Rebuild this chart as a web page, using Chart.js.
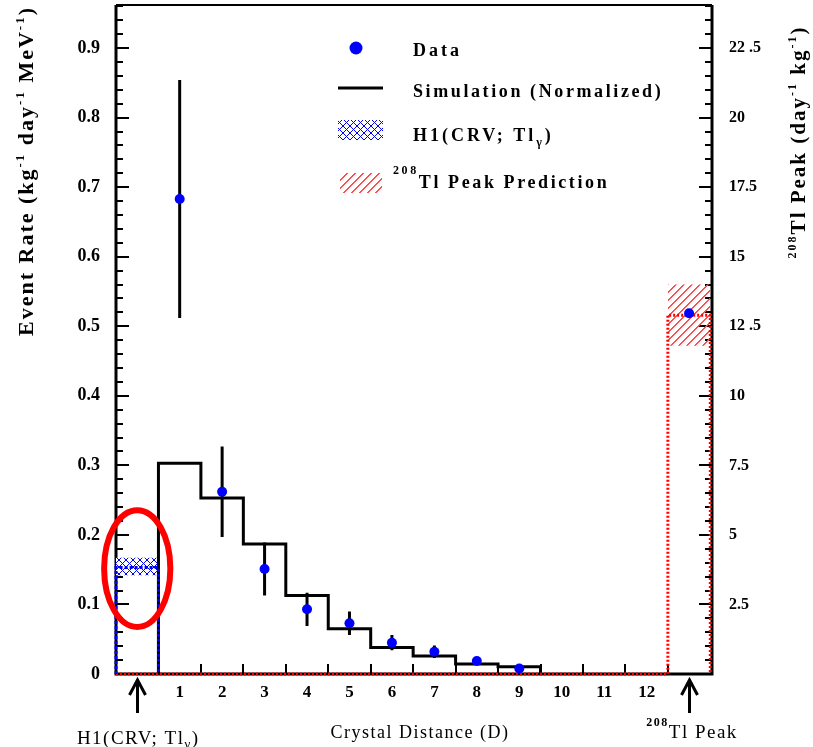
<!DOCTYPE html>
<html><head><meta charset="utf-8">
<script src="https://cdn.jsdelivr.net/npm/chart.js@4/dist/chart.umd.min.js"></script>
<style>html,body{margin:0;padding:0;background:#fff;}#wrap{width:813px;height:747px;position:relative;}canvas{display:block;}</style>
</head><body><div id="wrap"><canvas id="c" width="813" height="747"></canvas></div>
<script>
// ---------- data ----------
const xTickValues = [1,2,3,4,5,6,7,8,9,10,11,12];
const xTickLabels = ['1','2','3','4','5','6','7','8','9','10','11','12'];
const yTickValues = [0,0.1,0.2,0.3,0.4,0.5,0.6,0.7,0.8,0.9];
const yTickLabels = ['0','0.1','0.2','0.3','0.4','0.5','0.6','0.7','0.8','0.9'];
const y2TickValues = [2.5,5,7.5,10,12.5,15,17.5,20,22.5];
const y2TickLabels = ['2.5','5','7.5','10','12 .5','15','17.5','20','22 .5'];

const simEdges = [0.5,1.5,2.5,3.5,4.5,5.5,6.5,7.5,8.5,9.5];
const simValues = [0.303,0.253,0.187,0.113,0.065,0.038,0.026,0.0145,0.0105];

const dataX = [1,2,3,4,5,6,7,8,9];
const dataY = [0.683,0.262,0.151,0.093,0.073,0.045,0.032,0.0187,0.008];
const dataErr = [0.171,0.065,0.038,0.024,0.017,0.011,0.009,0.004,0.002];

const h1Edges = [-0.5,0.5];
const h1Value = 0.153;
const h1Band = [0.142,0.167];

const tlEdges = [12.5,13.5];
const tlValue = 12.9;
const tlBand = [11.8,14.0];
const tlDataX = [13];
const tlDataY = [12.97];

// ---------- styles ----------
const F = '"Liberation Serif","Times New Roman",serif';
const BLUE = '#0000ff', RED = '#ff0000';

function makeBlueHatch(){
  const n = 7;
  const c = document.createElement('canvas'); c.width = n; c.height = n;
  const g = c.getContext('2d');
  g.fillStyle = '#ffffff'; g.fillRect(0,0,n,n);
  g.fillStyle = BLUE;
  for (let i = 0; i < n; i++){ g.fillRect(i, i, 1, 1); g.fillRect(n-1-i, i, 1, 1); }
  return g.createPattern(c,'repeat');
}
function makeRedHatch(){
  const n = 8;
  const c = document.createElement('canvas'); c.width = n; c.height = n;
  const g = c.getContext('2d');
  g.fillStyle = '#ff4d4d';
  for (let i = 0; i < n; i++){ g.fillRect(i, n-1-i, 1, 1); g.fillRect((i+1)%n, n-1-i, 1, 1); }
  return g.createPattern(c,'repeat');
}
const ctx0 = document.getElementById('c').getContext('2d');
const blueHatch = makeBlueHatch();
const redHatch = makeRedHatch();

// ---------- build datasets ----------
const simPts = [{x: simEdges[0], y: 0}];
simValues.forEach((v,i)=>simPts.push({x: simEdges[i], y: v}));
simPts.push({x: simEdges[simEdges.length-1], y: 0});

const h1Pts = [{x:h1Edges[0],y:0},{x:h1Edges[0],y:h1Value},{x:h1Edges[1],y:h1Value},{x:h1Edges[1],y:0}];
const tlPts = [{x:-0.5,y:0},{x:tlEdges[0],y:0},{x:tlEdges[0],y:tlValue},{x:tlEdges[1],y:tlValue},{x:tlEdges[1],y:0}];

function richMeasure(ctx, parts, sp){
  let w = 0;
  ctx.letterSpacing = '0px';
  for (const p of parts){ ctx.font = p[1]; w += ctx.measureText(p[0]).width + sp*p[0].length; }
  return w;
}
function richDraw(ctx, parts, x, y, sp){
  for (const p of parts){
    ctx.font = p[1];
    ctx.letterSpacing = sp + 'px';
    ctx.fillText(p[0], x, y + p[2]);
    ctx.letterSpacing = '0px';
    x += ctx.measureText(p[0]).width + sp*p[0].length;
  }
  ctx.letterSpacing = '0px';
}
function zeroPad(s){ s.paddingTop = 0; s.paddingBottom = 0; s.paddingLeft = 0; s.paddingRight = 0; }

const decor = {
  id: 'decor',
  beforeDatasetsDraw(chart){
    const {ctx, chartArea: a, scales} = chart;
    const xs = scales.x, ys = scales.y, y2 = scales.y2;
    ctx.save();
    ctx.strokeStyle = '#000';
    ctx.lineWidth = 3;
    ctx.beginPath();
    ctx.moveTo(a.left, a.top); ctx.lineTo(a.left, a.bottom); ctx.lineTo(a.right, a.bottom); ctx.lineTo(a.right, a.top);
    ctx.stroke();
    ctx.lineWidth = 2;
    ctx.beginPath(); ctx.moveTo(a.left, a.top); ctx.lineTo(a.right, a.top); ctx.stroke();
    ctx.lineWidth = 2;
    ctx.beginPath();
    for (let k = 0; k * 0.02 <= ys.max + 1e-9; k++){
      const py = Math.round(ys.getPixelForValue(k*0.02));
      const len = (k % 5 === 0) ? 13 : 7;
      ctx.moveTo(a.left, py); ctx.lineTo(a.left + len, py);
    }
    for (let k = 0; k * 0.5 <= y2.max + 1e-9; k++){
      const py = Math.round(y2.getPixelForValue(k*0.5));
      const len = (k % 5 === 0) ? 13 : 7;
      ctx.moveTo(a.right, py); ctx.lineTo(a.right - len, py);
    }
    for (let k = 0; k <= 12; k++){
      const px = Math.round(xs.getPixelForValue(k + 0.5));
      ctx.moveTo(px, a.bottom); ctx.lineTo(px, a.bottom - 10);
    }
    ctx.stroke();
    ctx.restore();
  },
  beforeDatasetDraw(chart, args){
    if (args.index !== 0) return;
    const {ctx, scales} = chart;
    const xs = scales.x, ys = scales.y;
    ctx.save();
    ctx.strokeStyle = '#000'; ctx.lineWidth = 3;
    ctx.beginPath();
    dataX.forEach((x,i)=>{
      const px = xs.getPixelForValue(x);
      ctx.moveTo(px, ys.getPixelForValue(dataY[i] - dataErr[i]));
      ctx.lineTo(px, ys.getPixelForValue(dataY[i] + dataErr[i]));
    });
    ctx.stroke();
    ctx.restore();
  },
  afterDatasetsDraw(chart){
    const {ctx, scales} = chart;
    const xs = scales.x, ys = scales.y;
    ctx.save();
    const cx = xs.getPixelForValue(0), cy = ys.getPixelForValue(0.1516);
    const rx = xs.getPixelForValue(0.78) - cx, ry = ys.getPixelForValue(0) - ys.getPixelForValue(0.084);
    ctx.strokeStyle = RED; ctx.lineWidth = 6;
    ctx.beginPath(); ctx.ellipse(cx, cy, rx, ry, 0, 0, Math.PI*2); ctx.stroke();

    // legend
    ctx.fillStyle = BLUE;
    ctx.beginPath(); ctx.arc(356, 48, 6.5, 0, Math.PI*2); ctx.fill();
    ctx.strokeStyle = '#000'; ctx.lineWidth = 3;
    ctx.beginPath(); ctx.moveTo(338, 88); ctx.lineTo(383, 88); ctx.stroke();
    ctx.fillStyle = blueHatch; ctx.fillRect(338, 120, 45, 20);
    ctx.fillStyle = redHatch; ctx.fillRect(340, 173, 42, 20);
    ctx.fillStyle = '#000';
    ctx.textBaseline = 'alphabetic'; ctx.textAlign = 'left';
    const LB = 'bold 18px ' + F, LS = 'bold 12px ' + F;
    richDraw(ctx, [['Data', LB, 0]], 413, 56, 3);
    richDraw(ctx, [['Simulation (Normalized)', LB, 0]], 413, 97, 2.6);
    richDraw(ctx, [['H1(CRV; Tl', LB, 0], ['\u03b3', LS, 5], [')', LB, 0]], 413, 141, 3);
    richDraw(ctx, [['208', LS, -14], ['Tl Peak Prediction', LB, 0]], 393, 188, 2.6);

    // arrows under x axis
    ctx.strokeStyle = '#000'; ctx.lineWidth = 3;
    [0, 13].forEach(v=>{
      const px = Math.round(xs.getPixelForValue(v)) + 0.5;
      ctx.beginPath();
      ctx.moveTo(px, 713); ctx.lineTo(px, 680);
      ctx.moveTo(px - 8, 695); ctx.lineTo(px, 680); ctx.lineTo(px + 8, 695);
      ctx.stroke();
    });

    // bottom labels
    const BR = '19px ' + F, BS = '13px ' + F, BSB = 'bold 12px ' + F;
    let p1 = [['H1(CRV; Tl', BR, 0], ['\u03b3', BS, 4], [')', BR, 0]];
    let w1 = richMeasure(ctx, p1, 1.5);
    ctx.fillStyle = '#000';
    richDraw(ctx, p1, xs.getPixelForValue(0) + 1 - w1/2, 744, 1.5);
    let p2 = [['208', BSB, -12], ['Tl Peak', BR, 0]];
    let w2 = richMeasure(ctx, p2, 1.5);
    richDraw(ctx, p2, xs.getPixelForValue(13) + 3 - w2/2, 738, 1.5);
    let p3 = [['Crystal Distance (D)', '18px ' + F, 0]];
    let w3 = richMeasure(ctx, p3, 1.5);
    richDraw(ctx, p3, 420 - w3/2, 738, 1.5);

    // axis titles
    const TB = 'bold 22px ' + F, TS = 'bold 13px ' + F;
    const lt = [['Event Rate (kg', TB, 0], ['-1', TS, -9], [' day', TB, 0], ['-1', TS, -9], [' MeV', TB, 0], ['-1', TS, -9], [')', TB, 0]];
    ctx.save();
    ctx.translate(33, 171); ctx.rotate(-Math.PI/2);
    const wl = richMeasure(ctx, lt, 2);
    richDraw(ctx, lt, -wl/2, 0, 2);
    ctx.restore();
    const RB = 'bold 21px ' + F, RS = 'bold 12px ' + F;
    const rt = [['208', RS, -9], ['Tl Peak (day', RB, 0], ['-1', RS, -9], [' kg', RB, 0], ['-1', RS, -9], [')', RB, 0]];
    ctx.save();
    ctx.translate(805, 142); ctx.rotate(-Math.PI/2);
    const wr = richMeasure(ctx, rt, 2);
    richDraw(ctx, rt, -wr/2, 0, 2);
    ctx.restore();

    ctx.restore();
  }
};

new Chart(ctx0, {
  type: 'line',
  data: {
    datasets: [
      { label: 'Data', data: dataX.map((x,i)=>({x, y: dataY[i]})), showLine: false,
        pointRadius: 5, pointBackgroundColor: BLUE, pointBorderWidth: 0, borderColor: BLUE,
        yAxisID: 'y', order: 0, clip: false },
      { label: 'Data (Tl peak)', data: tlDataX.map((x,i)=>({x, y: tlDataY[i]})), showLine: false,
        pointRadius: 5, pointBackgroundColor: BLUE, pointBorderWidth: 0, borderColor: BLUE,
        yAxisID: 'y2', order: 0, clip: false },
      { label: 'H1(CRV; Tl\u03b3)', data: h1Pts, borderColor: BLUE, borderWidth: 3, borderDash: [3,2],
        pointRadius: 0, fill: false, yAxisID: 'y', order: 1, clip: false },
      { label: '208Tl Peak', data: tlPts, borderColor: RED, borderWidth: 3, borderDash: [2,2],
        pointRadius: 0, fill: false, yAxisID: 'y2', order: 1, clip: false },
      { label: 'Simulation (Normalized)', data: simPts, stepped: 'before', borderColor: '#000', borderWidth: 3,
        pointRadius: 0, fill: false, yAxisID: 'y', order: 2, clip: false },
      { label: 'H1 band low', data: h1Edges.map(x=>({x, y: h1Band[0]})), borderWidth: 0, pointRadius: 0,
        fill: false, yAxisID: 'y', order: 3 },
      { label: 'H1 band high', data: h1Edges.map(x=>({x, y: h1Band[1]})), borderWidth: 0, pointRadius: 0,
        fill: '-1', backgroundColor: blueHatch, yAxisID: 'y', order: 3 },
      { label: 'Tl band low', data: tlEdges.map(x=>({x, y: tlBand[0]})), borderWidth: 0, pointRadius: 0,
        fill: false, yAxisID: 'y2', order: 3 },
      { label: 'Tl band high', data: tlEdges.map(x=>({x, y: tlBand[1]})), borderWidth: 0, pointRadius: 0,
        fill: '-1', backgroundColor: redHatch, yAxisID: 'y2', order: 3 }
    ]
  },
  options: {
    responsive: false, animation: false, devicePixelRatio: 1,
    layout: { padding: { top: 5, left: 0, right: 0, bottom: 0 } },
    plugins: { legend: { display: false }, tooltip: { enabled: false } },
    events: [],
    scales: {
      x: {
        type: 'linear', position: 'bottom', min: -0.5, max: 13.54,
        grid: { display: false, drawTicks: false }, border: { display: false },
        afterBuildTicks: s => { s.ticks = xTickValues.map(v=>({value: v})); },
        afterFit: s => { s.height = 73; zeroPad(s); },
        ticks: { autoSkip: false, maxRotation: 0, padding: 8, color: '#000',
          font: { family: F, size: 17, weight: 'bold' },
          callback: (v, i) => xTickLabels[i] }
      },
      y: {
        type: 'linear', position: 'left', min: 0, max: 0.962,
        grid: { display: false, drawTicks: false }, border: { display: false },
        afterBuildTicks: s => { s.ticks = yTickValues.map(v=>({value: v})); },
        afterFit: s => { s.width = 116; zeroPad(s); },
        ticks: { autoSkip: false, padding: 16, color: '#000',
          font: { family: F, size: 18, weight: 'bold' },
          callback: (v, i) => yTickLabels[i] }
      },
      y2: {
        type: 'linear', position: 'right', min: 0, max: 24.05,
        grid: { display: false, drawTicks: false }, border: { display: false },
        afterBuildTicks: s => { s.ticks = y2TickValues.map(v=>({value: v})); },
        afterFit: s => { s.width = 101; zeroPad(s); },
        ticks: { autoSkip: false, padding: 17, color: '#000',
          font: { family: F, size: 16, weight: 'bold' },
          callback: (v, i) => y2TickLabels[i] }
      }
    }
  },
  plugins: [decor]
});
</script>
</body></html>
